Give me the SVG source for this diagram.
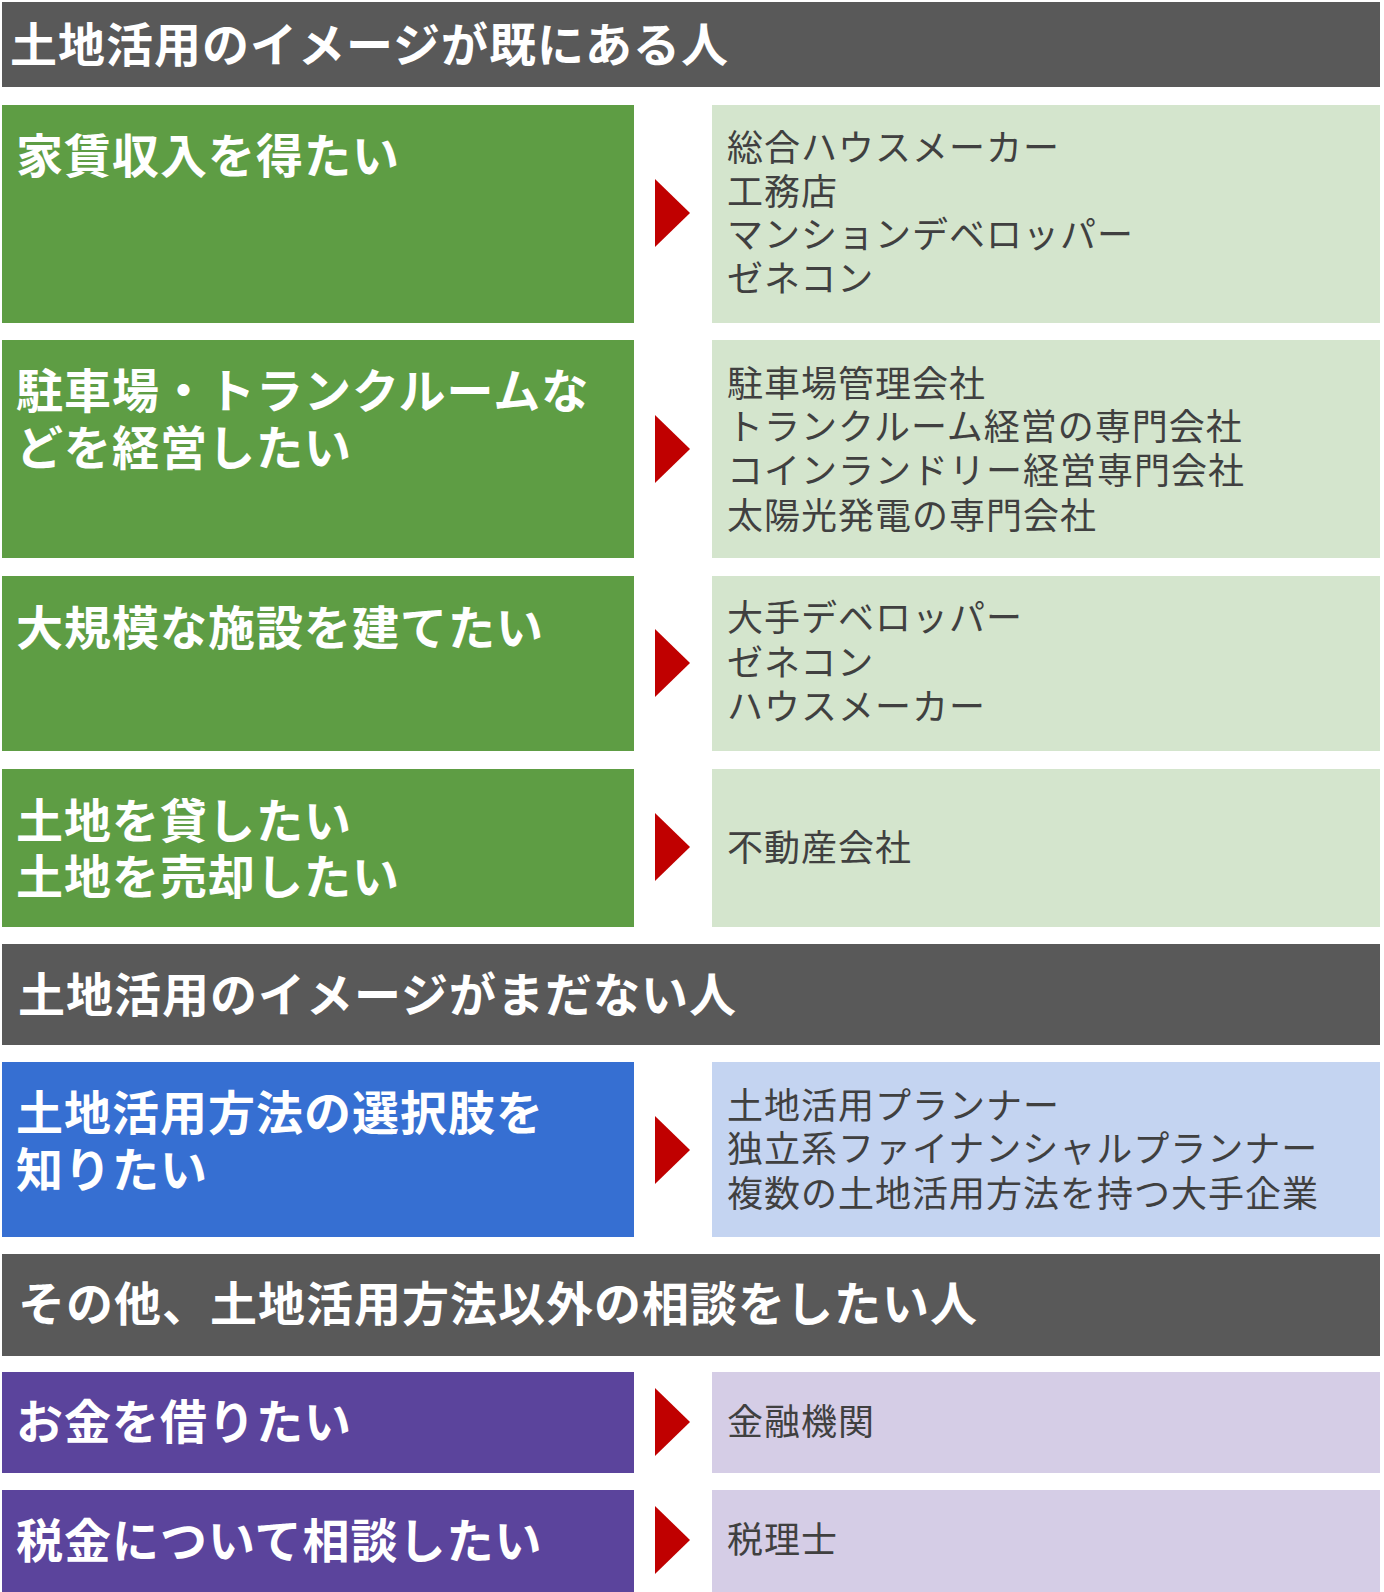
<svg xmlns="http://www.w3.org/2000/svg" width="1384" height="1592" viewBox="0 0 1384 1592">
<style>
.hd{fill:#595959}
.g{fill:#5e9d44}
.lg{fill:#d4e5cd}
.b{fill:#366fd2}
.lb{fill:#c4d4f1}
.p{fill:#5b449c}
.lp{fill:#d5cde6}
.ht{font-family:"Noto Sans CJK JP",sans-serif;font-weight:700;font-size:47px;letter-spacing:1px;fill:#ffffff}
.rt{font-family:"Noto Sans CJK JP",sans-serif;font-weight:400;font-size:36px;letter-spacing:1px;fill:#404040}
.ar{fill:#c00000}
</style>
<rect width="1384" height="1592" fill="#ffffff"/>
<g id="header1"><rect class="hd" x="2" y="2" width="1378" height="85"/><text class="ht" x="10" y="62">土地活用のイメージが既にある人</text></g>
<g id="need1"><rect class="g" x="2" y="105" width="632" height="218"/><text class="ht" x="16" y="173">家賃収入を得たい</text></g>
<g id="ans1"><rect class="lg" x="712" y="105" width="668" height="218"/><text class="rt" x="727" y="161">総合ハウスメーカー</text><text class="rt" x="727" y="205">工務店</text><text class="rt" x="727" y="248">マンションデベロッパー</text><text class="rt" x="727" y="292">ゼネコン</text></g>
<g id="need2"><rect class="g" x="2" y="340" width="632" height="218"/><text class="ht" x="16" y="408">駐車場・トランクルームな</text><text class="ht" x="16" y="465">どを経営したい</text></g>
<g id="ans2"><rect class="lg" x="712" y="340" width="668" height="218"/><text class="rt" x="727" y="397">駐車場管理会社</text><text class="rt" x="727" y="440">トランクルーム経営の専門会社</text><text class="rt" x="727" y="484">コインランドリー経営専門会社</text><text class="rt" x="727" y="529">太陽光発電の専門会社</text></g>
<g id="need3"><rect class="g" x="2" y="576" width="632" height="175"/><text class="ht" x="16" y="645">大規模な施設を建てたい</text></g>
<g id="ans3"><rect class="lg" x="712" y="576" width="668" height="175"/><text class="rt" x="727" y="631">大手デベロッパー</text><text class="rt" x="727" y="676">ゼネコン</text><text class="rt" x="727" y="720">ハウスメーカー</text></g>
<g id="need4"><rect class="g" x="2" y="769" width="632" height="158"/><text class="ht" x="16" y="838">土地を貸したい</text><text class="ht" x="16" y="894">土地を売却したい</text></g>
<g id="ans4"><rect class="lg" x="712" y="769" width="668" height="158"/><text class="rt" x="727" y="861">不動産会社</text></g>
<g id="header2"><rect class="hd" x="2" y="944" width="1378" height="101"/><text class="ht" x="18" y="1012">土地活用のイメージがまだない人</text></g>
<g id="need5"><rect class="b" x="2" y="1062" width="632" height="175"/><text class="ht" x="16" y="1130">土地活用方法の選択肢を</text><text class="ht" x="16" y="1187">知りたい</text></g>
<g id="ans5"><rect class="lb" x="712" y="1062" width="668" height="175"/><text class="rt" x="727" y="1119">土地活用プランナー</text><text class="rt" x="727" y="1162">独立系ファイナンシャルプランナー</text><text class="rt" x="727" y="1207">複数の土地活用方法を持つ大手企業</text></g>
<g id="header3"><rect class="hd" x="2" y="1254" width="1378" height="102"/><text class="ht" x="18" y="1321">その他、土地活用方法以外の相談をしたい人</text></g>
<g id="need6"><rect class="p" x="2" y="1372" width="632" height="101"/><text class="ht" x="16" y="1439">お金を借りたい</text></g>
<g id="ans6"><rect class="lp" x="712" y="1372" width="668" height="101"/><text class="rt" x="727" y="1435">金融機関</text></g>
<g id="need7"><rect class="p" x="2" y="1490" width="632" height="102"/><text class="ht" x="16" y="1558">税金について相談したい</text></g>
<g id="ans7"><rect class="lp" x="712" y="1490" width="668" height="102"/><text class="rt" x="727" y="1553">税理士</text></g>
<g id="connectors">
<polygon class="ar" points="655,179 690,213 655,247"/>
<polygon class="ar" points="655,415 690,449 655,483"/>
<polygon class="ar" points="655,629 690,663 655,697"/>
<polygon class="ar" points="655,813 690,847 655,881"/>
<polygon class="ar" points="655,1116 690,1150 655,1184"/>
<polygon class="ar" points="655,1388 690,1422 655,1456"/>
<polygon class="ar" points="655,1506 690,1540 655,1574"/>
</g>
</svg>
